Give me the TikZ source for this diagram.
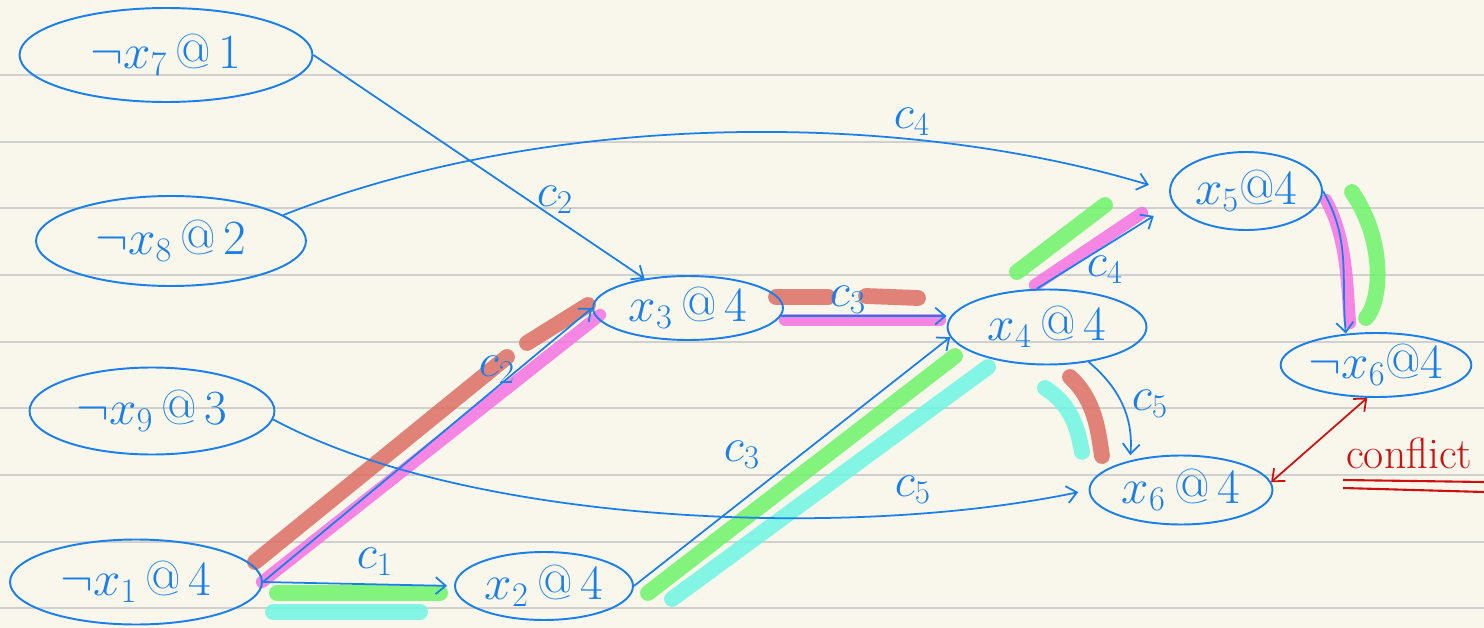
\RequirePackage{fix-cm}
\documentclass[tikz,border=0pt]{standalone}
\usepackage{amsmath}
\usepackage{tikz}
\usetikzlibrary{shapes.geometric,arrows.meta}

\definecolor{pen}{HTML}{1A7FE8}
\definecolor{redpen}{HTML}{CC1111}
\definecolor{paper}{HTML}{F9F7EB}
\definecolor{ruling}{HTML}{D0D0CE}
\definecolor{hlred}{HTML}{DC6E64}
\definecolor{hlpink}{HTML}{F573E3}
\definecolor{hlgreen}{HTML}{6EF46A}
\definecolor{hlcyan}{HTML}{6EF5E4}

\begin{document}
\begin{tikzpicture}[x=0.02cm,y=-0.02cm,
		lit/.style={ellipse,draw=pen,line width=1.1pt,inner sep=0pt,text=pen,font=\fontsize{28}{32}\selectfont},
		edge/.style={draw=pen,line width=1pt,-{Straight Barb[length=2mm,width=3.4mm]}},
		lbl/.style={text=pen,font=\fontsize{27}{30}\selectfont},
		hl/.style={line width=9pt,line cap=round,opacity=.85},
		thin hl/.style={hl,line width=7pt}]

		% paper
		\fill[paper] (0,0) rectangle (1484,628);
		\useasboundingbox (0,0) rectangle (1484,628);
		\foreach \k in {0,...,8}
			\draw[ruling,line width=1.2pt] (0,75+66.67*\k) -- (1484,75+66.67*\k);

		% highlighter strokes
		\draw[hl,hlred] (255,562) -- (507,357);
		\draw[hl,hlred] (527,343) -- (588,305);
		\draw[thin hl,hlpink] (262,582) -- (600,315);
		\draw[hl,hlgreen] (277,593) -- (440,593);
		\draw[hl,hlcyan] (273,612) -- (420,612);
		\draw[hl,hlred] (776,297) -- (828,297);
		\draw[hl,hlred] (866,296) -- (918,298);
		\draw[thin hl,hlpink] (785,320) -- (940,320);
		\draw[hl,hlgreen] (648,593) -- (955,356);
		\draw[hl,hlcyan] (672,599) -- (988,367);
		\draw[hl,hlgreen] (1017,272) -- (1105,205);
		\draw[thin hl,hlpink] (1035,285) -- (1142,213);
		\draw[thin hl,hlpink] (1326,200) .. controls (1348,240) and (1347,290) .. (1350,323);
		\draw[hl,hlgreen] (1352,192) .. controls (1385,240) and (1382,300) .. (1366,318);
		\draw[hl,hlred] (1070,377) .. controls (1095,400) and (1098,430) .. (1102,456);
		\draw[hl,hlcyan] (1045,388) .. controls (1072,405) and (1078,430) .. (1082,452);

		% literals
		\node[lit,minimum width=5.86cm,minimum height=1.88cm] (n7) at (166,55) {$\neg x_7\,@\,1$};
		\node[lit,minimum width=5.4cm,minimum height=1.8cm] (n8) at (171,241) {$\neg x_8\,@\,2$};
		\node[lit,minimum width=4.9cm,minimum height=1.74cm] (n9) at (152,411) {$\neg x_9\,@\,3$};
		\node[lit,minimum width=5.04cm,minimum height=1.7cm] (n1) at (136,582) {$\neg x_1\,@\,4$};
		\node[lit,minimum width=3.56cm,minimum height=1.36cm] (n2) at (544,586) {$x_2\,@\,4$};
		\node[lit,minimum width=3.8cm,minimum height=1.28cm] (n3) at (688,308) {$x_3\,@\,4$};
		\node[lit,minimum width=3.98cm,minimum height=1.5cm] (n4) at (1047,327) {$x_4\,@\,4$};
		\node[lit,minimum width=3.04cm,minimum height=1.56cm] (n5) at (1246,191) {$x_5@4$};
		\node[lit,minimum width=3.26cm,minimum height=1.28cm] (n6n) at (1376,365) {$\neg x_6@4$};
		\node[lit,minimum width=3.66cm,minimum height=1.38cm] (n6) at (1181,490) {$x_6\,@\,4$};

		% implications
		\draw[edge] (n7.east) -- (n3);
		\draw[edge,shorten >=12pt] (n8.13) .. controls (550,110) and (900,110) .. (n5.west);
		\draw[edge,shorten >=6pt] (n9.-4) .. controls (470,525) and (850,540) .. (n6.west);
		\draw[edge,shorten >=4pt] (n1.east) -- (n2.west);
		\draw[edge] (n1.east) -- (n3.west);
		\draw[edge] (n2.east) -- (n4.186);
		\draw[edge] (n3.-5) -- (n3.-5 -| n4.west);
		\draw[edge,shorten >=13pt] (n4.105) -- (n5.190);
		\draw[edge,shorten >=3pt] (n4.-40) to[out=-40,in=85] (n6.150);
		\draw[edge] (n5.east) to[out=-60,in=95] (n6n.134);

		% clause labels
		\node[lbl] (l7) at (555,200) {$c_2$};
		\node[lbl] (l1) at (497,370) {$c_2$};
		\node[lbl] (l12) at (375,562) {$c_1$};
		\node[lbl] (l34) at (848,300) {$c_3$};
		\node[lbl] (l24) at (742,455) {$c_3$};
		\node[lbl] (l85) at (912,122) {$c_4$};
		\node[lbl] (l45) at (1105,270) {$c_4$};
		\node[lbl] (l46) at (1150,404) {$c_5$};
		\node[lbl] (l96) at (913,490) {$c_5$};

		% conflict
		\draw[redpen,line width=1pt,{Straight Barb[length=2mm,width=3.4mm]}-{Straight Barb[length=2mm,width=3.4mm]}] (n6.5) -- (n6n.255);
		\node[text=redpen,font=\Huge,anchor=base west] (cf) at (1340,468) {conflict};
		\draw[redpen,line width=1.2pt] (1343,480) -- (1484,482);
		\draw[redpen,line width=1.2pt] (1343,488) -- (1484,492);
	\end{tikzpicture}
\end{document}
